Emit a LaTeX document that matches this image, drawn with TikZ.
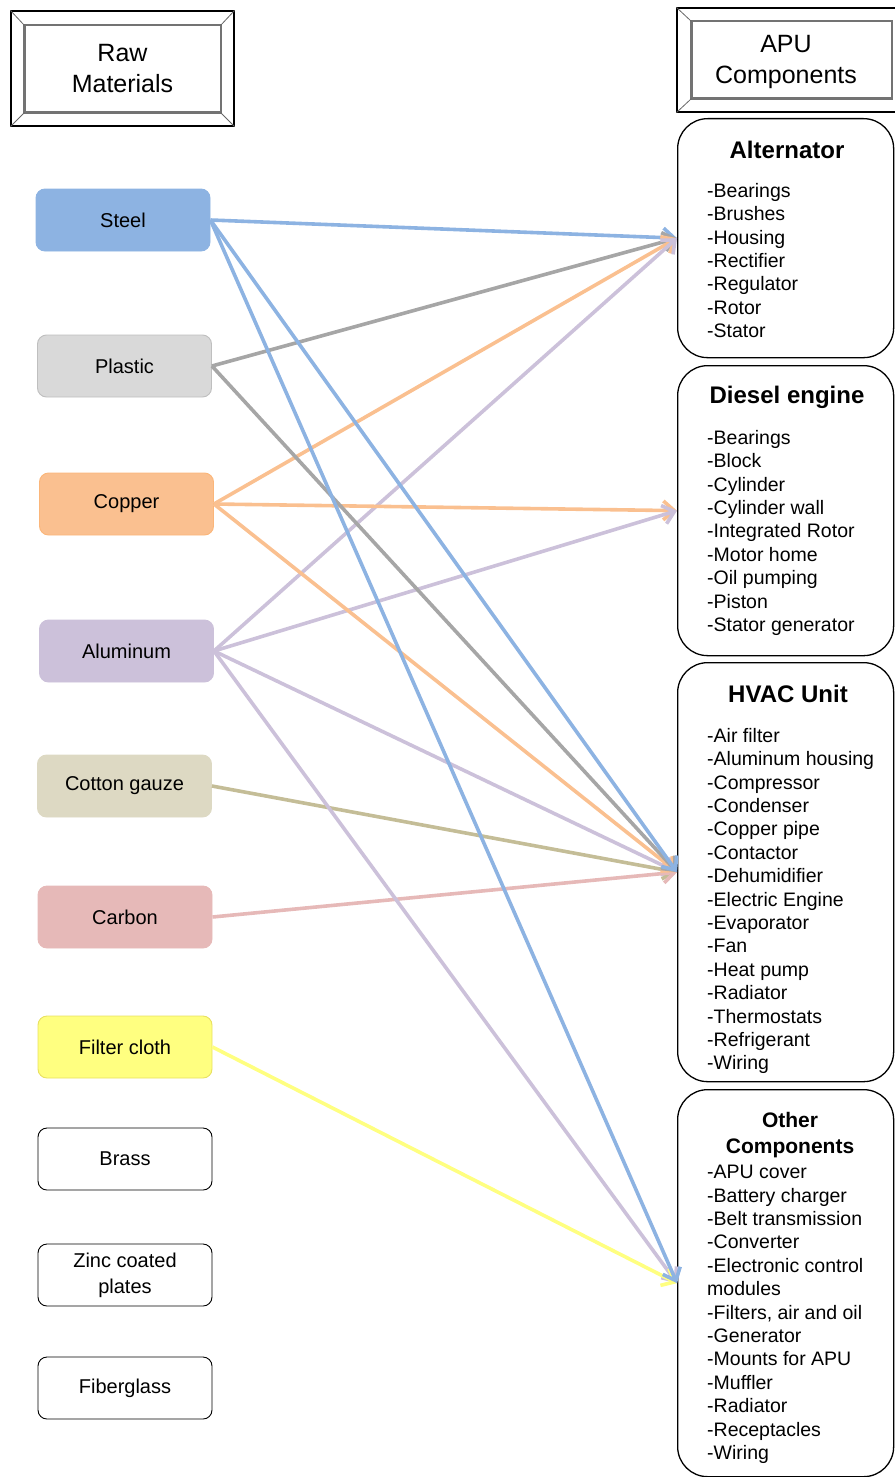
\documentclass[tikz,border=0pt]{standalone}
\usepackage{fontspec}
\setmainfont{Liberation Sans}
\usetikzlibrary{arrows.meta}
\definecolor{steelc}{HTML}{8DB3E2}
\definecolor{plasticf}{HTML}{D9D9D9}
\definecolor{plasticd}{HTML}{BFBFBF}
\definecolor{plasticc}{HTML}{A6A6A6}
\definecolor{copperc}{HTML}{FAC090}
\definecolor{alumc}{HTML}{CCC1DA}
\definecolor{cottonf}{HTML}{DDD9C3}
\definecolor{cottonc}{HTML}{C4BD97}
\definecolor{carbonc}{HTML}{E6B9B8}
\definecolor{filterf}{HTML}{FFFF80}
\definecolor{filterd}{HTML}{E8E060}
\begin{document}
\begin{tikzpicture}[x=1pt,y=-1pt,
  matbox/.style={draw, rounded corners=9pt, minimum width=174pt, minimum height=62pt,
    inner sep=0pt, font=\fontsize{20}{26}\selectfont, align=center, line width=0.9pt},
  compbox/.style={draw, rounded corners=30pt, line width=1.3pt, inner sep=0pt,
    anchor=north west, minimum width=216pt},
  hdr/.style={draw, line width=1.2pt, inner sep=0pt, align=center,
    font=\fontsize{25}{31}\selectfont},
  bevel/.style={draw=black!55, line width=2.2pt},
  diag/.style={draw=black!60, line width=0.8pt},
  ttl/.style={font=\bfseries\fontsize{24}{28}\selectfont, inner sep=0pt},
  lst/.style={font=\fontsize{19.5}{23.4}\selectfont, align=left, inner sep=0pt, anchor=north west},
  conn/.style={line width=3.6pt, -{Straight Barb[length=11pt,width=19pt]}}
]
\useasboundingbox (0,0) rectangle (894,1477);

% headers
\node[hdr, minimum width=223pt, minimum height=115pt] (rawhdr) at (122.5,68.5) {Raw\\Materials};
\draw[bevel] ([shift={(14,15)}]rawhdr.north west) rectangle ([shift={(-14,-14)}]rawhdr.south east);
\draw[diag] (rawhdr.north west) -- ([shift={(14,15)}]rawhdr.north west);
\draw[diag] (rawhdr.north east) -- ([shift={(-14,15)}]rawhdr.north east);
\draw[diag] (rawhdr.south west) -- ([shift={(14,-14)}]rawhdr.south west);
\draw[diag] (rawhdr.south east) -- ([shift={(-14,-14)}]rawhdr.south east);

\node[hdr, minimum width=229pt, minimum height=104pt] (apuhdr) at (791.5,60) {};
\node[font=\fontsize{25}{31}\selectfont, align=center, inner sep=0pt] (apulbl) at (786,61.5) {APU\\Components};
\draw[bevel] ([shift={(15,14)}]apuhdr.north west) rectangle ([shift={(-15,-14)}]apuhdr.south east);
\draw[diag] (apuhdr.north west) -- ([shift={(15,14)}]apuhdr.north west);
\draw[diag] (apuhdr.south west) -- ([shift={(15,-14)}]apuhdr.south west);

% raw materials
\node[matbox, fill=steelc, draw=steelc] (steel) at (123,220) {Steel};
\node[matbox, fill=plasticf, draw=plasticd] (plastic) at (124.5,366) {Plastic};
\node[matbox, fill=copperc, draw=copperc!85!orange] (copper) at (126.5,504) {Copper};
\node[matbox, fill=alumc, draw=alumc] (alum) at (126.5,651) {Aluminum};
\node[matbox, fill=cottonf, draw=cottonf] (cotton) at (124.5,786) {Cotton gauze};
\node[matbox, fill=carbonc, draw=carbonc] (carbon) at (125,917) {Carbon};
\node[matbox, fill=filterf, draw=filterd] (filter) at (125,1047) {Filter cloth};
\node[matbox] (brass) at (125,1159) {Brass};
\node[matbox] (zinc) at (125,1275) {Zinc coated\\plates};
\node[matbox] (fiber) at (125,1388) {Fiberglass};

% component boxes
\node[compbox, minimum height=239pt] (alt) at (677,118) {};
\node[ttl] (alttl) at (787,150) {Alternator};
\node[lst] (altl) at (707,183) {-Bearings\\-Brushes\\-Housing\\-Rectifier\\-Regulator\\-Rotor\\-Stator};

\node[compbox, minimum height=290pt] (die) at (677,365) {};
\node[ttl] (dietl) at (787,397) {Diesel engine};
\node[lst] (diel) at (707,430) {-Bearings\\-Block\\-Cylinder\\-Cylinder wall\\-Integrated Rotor\\-Motor home\\-Oil pumping\\-Piston\\-Stator generator};

\node[compbox, minimum height=419pt] (hvac) at (677,662) {};
\node[ttl] (hvactl) at (788,694) {HVAC Unit};
\node[lst] (hvacl) at (707,728) {-Air filter\\-Aluminum housing\\-Compressor\\-Condenser\\-Copper pipe\\-Contactor\\-Dehumidifier\\-Electric Engine\\-Evaporator\\-Fan\\-Heat pump\\-Radiator\\-Thermostats\\-Refrigerant\\-Wiring};

\node[compbox, minimum height=387pt] (oth) at (677,1089) {};
\node[ttl, font=\bfseries\fontsize{21}{26}\selectfont, align=center] (othtl) at (790,1135) {Other\\Components};
\node[lst] (othl) at (707,1165) {-APU cover\\-Battery charger\\-Belt transmission\\-Converter\\-Electronic control\\modules\\-Filters, air and oil\\-Generator\\-Mounts for APU\\-Muffler\\-Radiator\\-Receptacles\\-Wiring};

% connectors
\draw[conn, steelc] (steel.east) -- (alt.west);
\draw[conn, plasticc] (plastic.east) -- (alt.west);
\draw[conn, copperc] (copper.east) -- (alt.west);
\draw[conn, alumc] (alum.east) -- (alt.west);
\draw[conn, copperc] (copper.east) -- (die.west);
\draw[conn, alumc] (alum.east) -- (die.west);
\draw[conn, alumc] (alum.east) -- (hvac.west);
\draw[conn, cottonc] (cotton.east) -- (hvac.west);
\draw[conn, carbonc] (carbon.east) -- (hvac.west);
\draw[conn, copperc] (copper.east) -- (hvac.west);
\draw[conn, plasticc] (plastic.east) -- (hvac.west);
\draw[conn, steelc] (steel.east) -- (hvac.west);
\draw[conn, alumc] (alum.east) -- (oth.west);
\draw[conn, filterf] (filter.east) -- (oth.west);
\draw[conn, steelc] (steel.east) -- (oth.west);
\end{tikzpicture}
\end{document}
